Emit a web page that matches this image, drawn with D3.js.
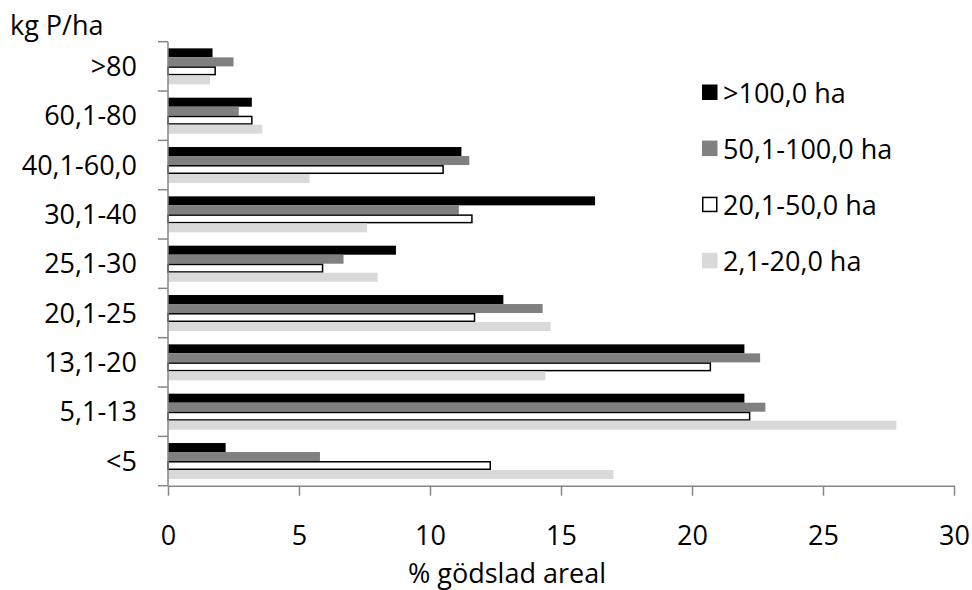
<!DOCTYPE html>
<html>
<head>
<meta charset="utf-8">
<script src="https://cdn.jsdelivr.net/npm/d3@7"></script>
<style>
  body { margin: 0; background: #fff; }
  svg text { font-family: 'Open Sans', sans-serif; font-size: 27px; fill: #000; }
  .axis path, .axis line { stroke: #868686; stroke-width: 1.5px; }
</style>
</head>
<body>
<svg width="972" height="590"></svg>
<script>
// categories, top to bottom
const categories = ['>80', '60,1-80', '40,1-60,0', '30,1-40', '25,1-30', '20,1-25', '13,1-20', '5,1-13', '<5'];
const seriesNames = ['>100,0 ha', '50,1-100,0 ha', '20,1-50,0 ha', '2,1-20,0 ha'];
const over100 = [1.7, 3.2, 11.2, 16.3, 8.7, 12.8, 22.0, 22.0, 2.2];
const from50to100 = [2.5, 2.7, 11.5, 11.1, 6.7, 14.3, 22.6, 22.8, 5.8];
const from20to50 = [1.8, 3.2, 10.5, 11.6, 5.9, 11.7, 20.7, 22.2, 12.3];
const from2to20 = [1.6, 3.6, 5.4, 7.6, 8.0, 14.6, 14.4, 27.8, 17.0];
const xTicks = [0, 5, 10, 15, 20, 25, 30];

const seriesValues = [over100, from50to100, from20to50, from2to20];
const fills = ['#000000', '#808080', '#ffffff', '#d9d9d9'];
const strokes = ['none', 'none', '#000000', 'none'];

const svg = d3.select('svg');

const plotLeft = 168, plotRight = 954, plotTop = 41.7, plotBottom = 485.7;

const x = d3.scaleLinear().domain([0, 30]).range([plotLeft, plotRight]);

const pad = 0.27;
const y0 = d3.scaleBand()
  .domain(categories)
  .range([plotTop, plotBottom])
  .paddingInner(pad)
  .paddingOuter(pad / 2);

const y1 = d3.scaleBand()
  .domain(seriesNames)
  .range([0, y0.bandwidth()]);

// bars
const groups = svg.append('g').selectAll('g')
  .data(categories)
  .join('g')
  .attr('transform', c => `translate(0, ${y0(c)})`);

groups.selectAll('rect')
  .data((c, i) => seriesNames.map((s, j) => ({ s, j, v: seriesValues[j][i] })))
  .join('rect')
  .attr('x', x(0))
  .attr('y', d => y1(d.s) + (d.j === 2 ? 0.75 : 0))
  .attr('width', d => x(d.v) - x(0))
  .attr('height', d => y1.bandwidth() - (d.j === 2 ? 1.5 : 0))
  .attr('fill', d => fills[d.j])
  .attr('stroke', d => strokes[d.j])
  .attr('stroke-width', 1.5);

// x axis
const xAxis = svg.append('g')
  .attr('class', 'axis')
  .attr('transform', `translate(0, ${plotBottom})`)
  .call(d3.axisBottom(x).tickValues(xTicks).tickSizeInner(10).tickSizeOuter(0));
xAxis.selectAll('text')
  .attr('y', 0)
  .attr('dy', 0)
  .attr('transform', 'translate(0, 59.5)')
  .style('font-size', '27px')
  .style('font-family', "'Open Sans', sans-serif")
  .attr('fill', '#000');

// y axis, ticks between categories
const step = y0.step();
const yAxis = svg.append('g').attr('class', 'axis');
yAxis.append('line')
  .attr('x1', plotLeft).attr('x2', plotLeft)
  .attr('y1', plotTop).attr('y2', plotBottom);
yAxis.selectAll('.tick')
  .data(categories.concat(['end']))
  .join('line')
  .attr('x1', plotLeft - 10).attr('x2', plotLeft)
  .attr('y1', (c, i) => plotTop + i * step)
  .attr('y2', (c, i) => plotTop + i * step);

svg.append('g').selectAll('text')
  .data(categories)
  .join('text')
  .attr('x', 137)
  .attr('y', c => y0(c) + y0.bandwidth() / 2 + 9.5)
  .attr('text-anchor', 'end')
  .text(c => c);

// legend
const legend = svg.append('g').selectAll('g')
  .data(seriesNames)
  .join('g')
  .attr('transform', (s, i) => `translate(702, ${102.5 + i * 56.1})`);
legend.append('rect')
  .attr('x', (s, i) => i === 2 ? 0.75 : 0)
  .attr('y', (s, i) => -18 + (i === 2 ? 0.75 : 0))
  .attr('width', (s, i) => i === 2 ? 14 : 15.5)
  .attr('height', (s, i) => i === 2 ? 14 : 15.5)
  .attr('fill', (s, i) => fills[i])
  .attr('stroke', (s, i) => strokes[i])
  .attr('stroke-width', 1.5);
legend.append('text')
  .attr('x', 21)
  .attr('y', 0)
  .text(s => s);

// titles
svg.append('text')
  .attr('x', 10)
  .attr('y', 35)
  .text('kg P/ha');

svg.append('text')
  .attr('x', 507)
  .attr('y', 583)
  .attr('text-anchor', 'middle')
  .text('% gödslad areal');
</script>
</body>
</html>
